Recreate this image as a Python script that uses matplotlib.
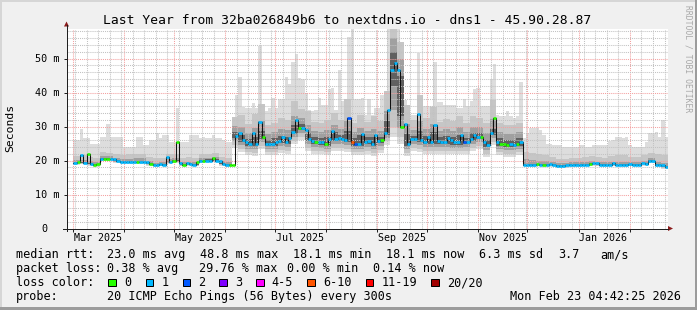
import numpy as np
import matplotlib
matplotlib.use("Agg")
import matplotlib.pyplot as plt
import matplotlib.transforms as mtransforms
from matplotlib.lines import Line2D
from matplotlib.patches import Rectangle, Polygon
from datetime import date

plt.rcParams['font.family'] = ['DejaVu Sans Mono']

# ---------------- data (days counted from 2025-03-01) ----------------
STEP = 2    # days per median / max sample
BLOCK = 4   # days per smoke-quantile sample

median = [
    19.3, 19.5, 21.6, 19.4, 21.8, 19.0, 18.7, 18.9, 20.4, 20.4,
    20.4, 20.4, 20.4, 19.8, 19.5, 19.5, 19.5, 19.5, 19.5, 19.5,
    19.5, 19.5, 19.5, 19.0, 18.7, 18.6, 19.0, 18.8, 21.0, 19.5,
    19.8, 25.3, 19.3, 18.8, 19.2, 18.9, 18.8, 19.5, 20.0, 19.8,
    20.0, 20.0, 20.8, 20.0, 20.0, 19.0, 18.7, 18.7, 18.8, 27.3,
    28.0, 26.0, 25.3, 25.0, 28.2, 24.8, 31.2, 27.0, 25.0, 25.0,
    25.0, 25.5, 25.8, 27.0, 25.5, 26.5, 28.4, 32.0, 29.7, 29.5,
    29.0, 26.3, 25.8, 25.5, 25.5, 25.3, 25.0, 26.3, 28.6, 26.3,
    26.5, 26.3, 26.0, 32.5, 25.5, 25.0, 25.0, 27.9, 25.5, 25.8,
    24.8, 27.6, 25.8, 26.0, 28.2, 34.8, 46.6, 48.8, 46.5, 29.8,
    30.8, 24.8, 26.3, 26.3, 33.8, 26.0, 25.5, 27.0, 25.5, 30.3,
    25.8, 25.5, 25.5, 26.6, 26.0, 25.3, 25.3, 27.5, 25.5, 25.5,
    26.3, 27.5, 27.0, 27.0, 25.5, 24.5, 28.0, 32.4, 25.5, 25.0,
    25.0, 24.6, 25.0, 24.5, 25.0, 25.5, 18.8, 18.8, 18.7, 18.8,
    18.9, 18.8, 18.7, 18.8, 18.9, 18.7, 18.4, 18.5, 18.4, 18.6,
    18.7, 18.8, 18.8, 18.7, 18.8, 18.8, 18.9, 19.4, 19.2, 18.8,
    18.7, 18.8, 18.8, 19.3, 18.8, 18.8, 18.7, 18.8, 19.0, 18.8,
    18.8, 18.8, 19.4, 19.0, 20.0, 19.8, 18.6, 18.7, 18.6, 18.1,
]

q_max = [
    26.0, 26.0, 29.2, 26.5, 26.5, 25.0, 25.0, 25.0, 26.9, 26.9,
    30.8, 26.9, 26.9, 26.9, 26.9, 24.0, 24.0, 24.0, 24.0, 26.9,
    26.9, 24.5, 24.5, 26.0, 26.0, 28.0, 26.5, 27.5, 27.5, 25.5,
    25.5, 35.3, 25.5, 25.5, 25.5, 27.5, 27.5, 27.5, 26.5, 27.0,
    26.5, 26.5, 27.5, 26.5, 26.5, 26.0, 25.5, 25.5, 25.5, 39.2,
    44.6, 35.8, 35.5, 35.3, 36.8, 35.3, 53.8, 33.0, 34.5, 35.3,
    38.5, 35.3, 38.2, 38.2, 44.5, 42.6, 49.0, 51.4, 44.4, 44.1,
    40.0, 35.0, 34.5, 35.0, 38.5, 36.3, 36.3, 41.0, 41.2, 34.8,
    46.5, 37.5, 37.5, 56.4, 58.8, 38.2, 38.2, 38.5, 33.3, 38.2,
    33.3, 35.3, 35.3, 39.2, 39.2, 58.8, 58.8, 58.8, 58.8, 46.1,
    37.7, 33.3, 33.3, 33.3, 51.5, 36.0, 36.0, 36.0, 36.0, 49.0,
    37.3, 37.3, 36.3, 36.3, 36.3, 36.3, 35.3, 35.3, 38.0, 36.0,
    37.5, 41.0, 41.2, 36.0, 36.0, 36.0, 44.0, 48.5, 33.5, 33.0,
    33.0, 34.5, 33.0, 32.5, 33.0, 43.0, 26.5, 28.0, 29.5, 29.5,
    29.5, 29.0, 27.5, 25.0, 25.0, 24.5, 24.5, 24.5, 24.0, 24.0,
    24.0, 24.0, 24.0, 24.5, 24.5, 24.0, 24.0, 24.5, 24.5, 24.5,
    24.5, 24.5, 25.8, 26.0, 27.0, 27.0, 26.5, 27.0, 24.5, 24.0,
    24.0, 24.0, 24.0, 25.5, 28.0, 28.0, 28.5, 27.0, 31.8, 27.0,
]

# loss class index per sample (0 -> "0", 1 -> "1", 2 -> "2", 5 -> "6-10")
loss_class = [
    1, 0, 1, 1, 0, 1, 0, 0, 1, 0,
    0, 1, 1, 1, 1, 1, 1, 1, 1, 0,
    1, 1, 1, 0, 1, 1, 1, 1, 1, 1,
    0, 0, 1, 0, 1, 1, 1, 0, 1, 0,
    1, 1, 0, 1, 1, 1, 1, 0, 0, 1,
    1, 1, 1, 1, 1, 1, 1, 0, 1, 1,
    1, 1, 1, 1, 1, 1, 1, 1, 0, 1,
    1, 1, 1, 0, 1, 1, 0, 1, 1, 1,
    1, 1, 1, 2, 5, 2, 1, 1, 1, 1,
    1, 1, 1, 0, 1, 1, 1, 1, 1, 0,
    1, 1, 1, 1, 1, 1, 1, 1, 1, 1,
    1, 1, 1, 1, 1, 1, 1, 1, 2, 1,
    1, 1, 1, 0, 1, 1, 1, 0, 1, 0,
    0, 0, 1, 1, 0, 1, 1, 1, 1, 1,
    0, 1, 0, 1, 1, 1, 1, 1, 1, 1,
    1, 1, 1, 1, 1, 1, 0, 1, 1, 1,
    1, 1, 1, 1, 1, 1, 1, 1, 1, 1,
    1, 1, 1, 1, 1, 1, 1, 1, 1, 1,
]

# smoke (ping distribution) quantiles, one value per 4 days
q_min = [
    18.8, 18.9, 18.5, 18.2, 19.9, 19.9, 19.3, 19.0, 19.0, 19.0, 19.0, 18.5,
    18.1, 18.3, 19.0, 19.3, 18.3, 18.4, 18.3, 19.3, 19.5, 19.5, 18.5, 18.2,
    23.8, 22.5, 21.5, 21.3, 23.5, 21.5, 21.5, 22.3, 22.0, 24.9, 26.0, 22.8,
    22.0, 21.8, 21.5, 22.8, 22.8, 22.5, 21.5, 21.5, 22.0, 21.3, 22.3, 24.7,
    27.0, 25.0, 21.3, 22.8, 22.5, 22.0, 22.0, 22.0, 22.0, 21.8, 21.8, 22.0,
    22.8, 23.5, 21.0, 24.5, 21.5, 21.1, 21.0, 21.5,
    18.3, 18.2, 18.3, 18.2, 18.2, 17.9, 17.9, 18.2, 18.2, 18.3, 18.4, 18.3,
    18.2, 18.3, 18.3, 18.2, 18.3, 18.3, 18.5, 19.3, 18.1, 17.6,
]
q10 = [
    19.0, 19.1, 18.7, 18.4, 20.1, 20.1, 19.5, 19.2, 19.2, 19.2, 19.2, 18.7,
    18.3, 18.5, 19.2, 19.5, 18.5, 18.6, 18.5, 19.5, 19.7, 19.7, 18.7, 18.4,
    24.7, 23.4, 22.4, 22.2, 24.4, 22.4, 22.4, 23.2, 22.9, 25.8, 26.9, 23.7,
    22.9, 22.7, 22.4, 23.7, 23.7, 23.4, 22.4, 22.4, 22.9, 22.2, 23.2, 25.6,
    30.0, 27.0, 22.2, 23.7, 23.4, 22.9, 22.9, 22.9, 22.9, 22.7, 22.7, 22.9,
    23.7, 24.4, 21.9, 25.4, 22.4, 22.0, 21.9, 22.4,
    18.5, 18.4, 18.5, 18.4, 18.4, 18.1, 18.1, 18.4, 18.4, 18.5, 18.6, 18.5,
    18.4, 18.5, 18.5, 18.4, 18.5, 18.5, 18.7, 19.5, 18.3, 17.8,
]
q25 = [
    19.2, 19.3, 18.9, 18.6, 20.3, 20.3, 19.7, 19.4, 19.4, 19.4, 19.4, 18.9,
    18.5, 18.7, 19.4, 19.7, 18.7, 18.8, 18.7, 19.7, 19.9, 19.9, 18.9, 18.6,
    25.8, 24.5, 23.5, 23.3, 25.5, 23.5, 23.5, 24.3, 24.0, 26.9, 28.0, 24.8,
    24.0, 23.8, 23.5, 24.8, 24.8, 24.5, 23.5, 23.5, 24.0, 23.3, 24.3, 26.7,
    35.0, 29.5, 23.3, 24.8, 24.5, 24.0, 24.0, 24.0, 24.0, 23.8, 23.8, 24.0,
    24.8, 25.5, 23.0, 26.5, 23.5, 23.1, 23.0, 23.5,
    18.7, 18.6, 18.7, 18.6, 18.6, 18.3, 18.3, 18.6, 18.6, 18.7, 18.8, 18.7,
    18.6, 18.7, 18.7, 18.6, 18.7, 18.7, 18.9, 19.7, 18.5, 18.0,
]
q40 = [
    19.3, 19.4, 19.0, 18.7, 20.4, 20.4, 19.8, 19.5, 19.5, 19.5, 19.5, 19.0,
    18.6, 18.8, 19.5, 19.8, 18.8, 18.9, 18.8, 19.8, 20.0, 20.0, 19.0, 18.7,
    26.7, 25.4, 24.4, 24.2, 26.4, 24.4, 24.4, 25.2, 24.9, 27.8, 28.9, 25.7,
    24.9, 24.7, 24.4, 25.7, 25.7, 25.4, 24.4, 24.4, 24.9, 24.2, 25.2, 27.6,
    42.0, 33.0, 24.2, 25.7, 25.4, 24.9, 24.9, 24.9, 24.9, 24.7, 24.7, 24.9,
    25.7, 26.4, 23.9, 27.4, 24.4, 24.0, 23.9, 24.4,
    18.8, 18.7, 18.8, 18.7, 18.7, 18.4, 18.4, 18.7, 18.7, 18.8, 18.9, 18.8,
    18.7, 18.8, 18.8, 18.7, 18.8, 18.8, 19.0, 19.8, 18.6, 18.1,
]
q60 = [
    19.6, 19.7, 19.3, 19.0, 20.7, 20.7, 20.1, 19.8, 19.8, 19.8, 19.8, 19.3,
    18.9, 19.1, 19.8, 20.1, 19.1, 19.2, 19.1, 20.1, 20.3, 20.3, 19.3, 19.0,
    28.3, 27.5, 26.3, 26.8, 28.8, 26.0, 26.5, 27.3, 27.0, 30.5, 30.7, 28.0,
    26.8, 26.5, 27.0, 28.3, 27.5, 28.8, 26.5, 27.4, 26.8, 27.0, 27.0, 31.5,
    52.0, 45.0, 27.8, 27.3, 28.8, 27.3, 28.3, 26.8, 27.3, 27.0, 27.5, 26.5,
    28.0, 28.0, 26.0, 29.4, 26.5, 26.0, 26.0, 26.5,
    19.1, 19.0, 19.1, 19.0, 19.0, 18.7, 18.7, 19.0, 19.0, 19.1, 19.2, 19.1,
    19.0, 19.1, 19.1, 19.0, 19.1, 19.1, 19.3, 20.1, 18.9, 18.4,
]
q75 = [
    20.1, 20.2, 19.8, 19.5, 21.2, 21.2, 20.6, 20.3, 20.4, 20.7, 20.7, 19.9,
    19.4, 19.6, 20.4, 20.7, 19.6, 19.7, 19.6, 20.6, 20.8, 20.9, 19.8, 19.5,
    30.1, 30.0, 28.1, 29.5, 31.5, 27.8, 28.3, 29.3, 29.0, 33.0, 32.5, 30.5,
    28.6, 28.3, 29.1, 30.5, 29.3, 31.5, 28.3, 29.7, 28.6, 29.4, 28.8, 34.6,
    56.0, 50.0, 30.6, 29.1, 31.6, 29.3, 30.6, 28.6, 29.4, 28.8, 29.8, 28.3,
    30.0, 29.8, 28.0, 32.2, 28.3, 27.8, 27.8, 28.3,
    20.3, 20.1, 20.0, 19.8, 19.6, 19.2, 19.2, 19.5, 19.5, 19.6, 19.9, 19.7,
    19.5, 19.7, 19.7, 19.6, 19.6, 19.6, 19.9, 20.7, 19.6, 19.2,
]
q90 = [
    21.3, 21.5, 21.0, 20.7, 22.4, 22.3, 21.8, 21.5, 21.8, 22.0, 22.0, 21.0,
    20.8, 20.8, 21.8, 22.0, 20.8, 20.9, 20.8, 21.8, 22.0, 22.2, 21.0, 20.8,
    32.8, 33.5, 30.8, 33.7, 36.7, 30.5, 31.0, 32.5, 32.0, 37.5, 35.2, 34.5,
    31.3, 31.0, 31.8, 34.1, 32.0, 38.0, 31.0, 33.4, 31.3, 33.1, 31.5, 40.3,
    59.0, 55.0, 36.3, 31.8, 39.3, 32.5, 35.8, 31.3, 32.1, 31.5, 33.0, 31.0,
    33.0, 32.5, 31.0, 37.9, 31.0, 30.5, 30.5, 31.0,
    22.5, 22.3, 22.0, 21.5, 21.0, 20.5, 20.5, 20.8, 20.8, 20.9, 21.2, 21.0,
    20.8, 21.2, 21.5, 21.5, 21.0, 20.9, 21.5, 22.3, 21.8, 21.5,
]

loss_labels = ["0", "1", "2", "3", "4-5", "6-10", "11-19", "20/20"]
loss_colors = ["#26ff00", "#00b8ff", "#0059ff", "#7e00ff", "#ff00ff",
               "#ff5500", "#ff0000", "#a10000"]

y_ticks = [0, 10, 20, 30, 40, 50]
month_labels = ["Mar 2025", "May 2025", "Jul 2025", "Sep 2025", "Nov 2025", "Jan 2026"]
label_months = [(2025, 3), (2025, 5), (2025, 7), (2025, 9), (2025, 11), (2026, 1)]

title = "Last Year from 32ba026849b6 to nextdns.io - dns1 - 45.90.28.87"
stats_rtt = [("median rtt:", 16), ("23.0 ms avg", 107.3), ("48.8 ms max", 200),
             ("18.1 ms min", 293.3), ("18.1 ms now", 386), ("6.3 ms sd", 479.3),
             ("3.7", 558.3), ("am/s", 600)]
stats_loss = [("packet loss:", 16), ("0.38 % avg", 106.7), ("29.76 % max", 199.3),
              ("0.00 % min", 287.3), ("0.14 % now", 372.7)]
probe_text = "20 ICMP Echo Pings (56 Bytes) every 300s"
stamp_text = "Mon Feb 23 04:42:25 2026"

# ---------------- figure ----------------
W, H = 697, 310
fig = plt.figure(figsize=(W / 100, H / 100), dpi=100, facecolor="#f0f0f0")


def fx(px):
    return px / W


def fy(py):
    return 1 - py / H


PX_PER_DAY = 1.6516
X0_PX = 73.3
left_px, right_px, top_px, bot_px = 66.5, 668.0, 28.5, 228.5
ax = fig.add_axes([fx(left_px), fy(bot_px), (right_px - left_px) / W, (bot_px - top_px) / H])
ax.set_facecolor("white")
ax.set_xlim((left_px - X0_PX) / PX_PER_DAY, (right_px - X0_PX) / PX_PER_DAY)
ax.set_ylim(0, (bot_px - top_px) / 3.4)
for s in ax.spines.values():
    s.set_visible(False)

med = np.array(median)
qmx = np.array(q_max)
lc = np.array(loss_class)
t_med = np.arange(len(med)) * STEP
t_blk = np.arange(len(q_min)) * BLOCK


def ext(v):
    v = np.asarray(v, dtype=float)
    return np.append(v, v[-1])


xe = np.append(t_med, t_med[-1] + STEP)
xb = np.append(t_blk, t_blk[-1] + BLOCK)

# smoke layers
ax.fill_between(xe, ext(np.repeat(q_min, BLOCK // STEP)), ext(qmx), step="post",
                color="#dddddd", lw=0, zorder=1.0)
ax.fill_between(xb, ext(q10), ext(q90), step="post", color="#c6c6c6", lw=0, zorder=1.1)
ax.fill_between(xb, ext(q25), ext(q75), step="post", color="#a0a0a0", lw=0, zorder=1.2)
ax.fill_between(xb, ext(q40), ext(q60), step="post", color="#606060", lw=0, zorder=1.3)

# median line + loss colored markers
ax.step(xe, ext(med), where="post", color="#111111", lw=0.75, zorder=3)
for ci, col in enumerate(loss_colors):
    m = lc == ci
    if m.any():
        ax.hlines(med[m], t_med[m], t_med[m] + STEP, colors=col, lw=1.9,
                  zorder=4, capstyle="butt")

# grid
month_days = []
for yy, mm in [(2025, m) for m in range(3, 13)] + [(2026, 1), (2026, 2)]:
    month_days.append((date(yy, mm, 1) - date(2025, 3, 1)).days)
week_days = list(range(1, 361, 7))
ax.set_xticks(month_days)
ax.set_xticks(week_days, minor=True)
ax.set_yticks(y_ticks)
ax.set_yticks(list(range(0, 59, 2)), minor=True)
ax.set_axisbelow(False)
ax.grid(which="major", color="#f4a0a0", ls=(0, (1, 1)), lw=0.75)
ax.grid(which="minor", color="#c2c2c2", ls=(0, (1, 1)), lw=0.75)
ax.tick_params(which="minor", length=0)
ax.tick_params(which="major", length=2.0, width=0.72, color="#202020", direction="out",
               labelbottom=False, labelleft=False, pad=1)

# axis lines and arrows
fig.add_artist(Line2D([fx(66.5), fx(66.5)], [fy(231), fy(25)], transform=fig.transFigure,
                      color="#202020", lw=0.72))
fig.add_artist(Line2D([fx(63), fx(668)], [fy(228.5), fy(228.5)], transform=fig.transFigure,
                      color="#202020", lw=0.72))
fig.add_artist(Polygon([[fx(64), fy(26.5)], [fx(69), fy(26.5)], [fx(66.5), fy(21.5)]],
                       closed=True, transform=fig.transFigure, color="#8c1c1c", lw=0))
fig.add_artist(Polygon([[fx(668), fy(226)], [fx(668), fy(231)], [fx(673), fy(228.5)]],
                       closed=True, transform=fig.transFigure, color="#8c1c1c", lw=0))

# y tick labels
ytrans = mtransforms.offset_copy(
    mtransforms.blended_transform_factory(fig.transFigure, ax.transData),
    fig=fig, x=0, y=-3.6, units="dots")
for v in y_ticks:
    if v == 0:
        ax.text(fx(41.5), v, "0", transform=ytrans, ha="left", va="baseline", fontsize=7.3)
    else:
        ax.text(fx(35.3), v, f"{v} m", transform=ytrans, ha="left", va="baseline", fontsize=7.3)

# x labels (centred half a month after the month start)
xtrans = mtransforms.blended_transform_factory(ax.transData, fig.transFigure)
for lab, (yy, mm) in zip(month_labels, label_months):
    d = (date(yy, mm, 1) - date(2025, 3, 1)).days + 15
    ax.text(d, fy(241), lab, transform=xtrans, ha="center", va="baseline", fontsize=7.2)

# titles
fig.text(fx(347.5), fy(24), title, ha="center", va="baseline", fontsize=9.4)
fig.text(fx(10.5), fy(128), "Seconds", rotation=90, ha="center", va="center", fontsize=8.2)
fig.text(fx(688.3), fy(5), "RRDTOOL / TOBI OETIKER", rotation=270, ha="center", va="top",
         fontsize=5.8, color="#a8a8a8")

# legend
LFS = 8.47
for txt, x in stats_rtt:
    fig.text(fx(x), fy(258.3), txt, ha="left", va="baseline", fontsize=LFS)
for txt, x in stats_loss:
    fig.text(fx(x), fy(272.3), txt, ha="left", va="baseline", fontsize=LFS)
fig.text(fx(16), fy(286.3), "loss color:", ha="left", va="baseline", fontsize=LFS)
box_x = [108.3, 145.7, 182.7, 219.3, 256, 307.3, 365.7, 431]
for lab, col, bx in zip(loss_labels, loss_colors, box_x):
    fig.add_artist(Rectangle((fx(bx), fy(286)), 7.5 / W, 7.5 / H, transform=fig.transFigure,
                             facecolor=col, edgecolor="black", lw=0.72))
    fig.text(fx(bx + 15.7), fy(286.3), lab, ha="left", va="baseline", fontsize=LFS)
fig.text(fx(16), fy(300.3), "probe:", ha="left", va="baseline", fontsize=LFS)
fig.text(fx(107.3), fy(300.3), probe_text, ha="left", va="baseline", fontsize=LFS)
fig.text(fx(681), fy(300.3), stamp_text, ha="right", va="baseline", fontsize=LFS)

# frame (3D shade)
fig.add_artist(Rectangle((0, fy(2)), 1, 2 / H, transform=fig.transFigure, color="#d6d6d6", lw=0))
fig.add_artist(Rectangle((0, 0), 2 / W, 1, transform=fig.transFigure, color="#d6d6d6", lw=0))
fig.add_artist(Rectangle((0, 0), 1, 3 / H, transform=fig.transFigure, color="#9c9c9c", lw=0))
fig.add_artist(Rectangle((fx(694.5), 0), 2.5 / W, 1, transform=fig.transFigure, color="#9c9c9c", lw=0))

fig.savefig("out.png", dpi=100, facecolor=fig.get_facecolor())
